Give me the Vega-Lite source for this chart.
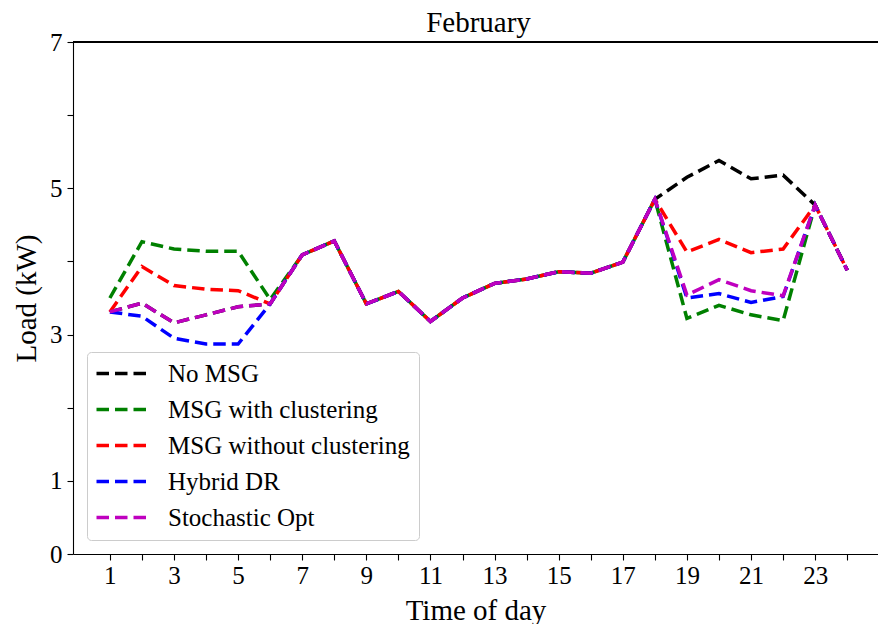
{
  "$schema": "https://vega.github.io/schema/vega-lite/v6.json",
  "autosize": {"type": "none"},
  "padding": {"left": 73, "top": 42, "right": 0, "bottom": 70},
  "width": 805,
  "height": 512,
  "background": "white",
  "config": {
    "font": "Liberation Serif",
    "view": {"stroke": null},
    "axis": {
      "grid": false,
      "domainColor": "black",
      "domainWidth": 1.1,
      "tickColor": "black",
      "tickWidth": 1.1,
      "tickSize": 6,
      "labelColor": "black",
      "labelFont": "Liberation Serif",
      "labelFontSize": 25,
      "labelOverlap": false,
      "labelFlush": false,
      "titleColor": "black",
      "titleFont": "Liberation Serif",
      "titleFontSize": 29,
      "titleFontWeight": "normal"
    },
    "legend": {
      "labelFont": "Liberation Serif",
      "labelFontSize": 25,
      "labelColor": "black",
      "labelLimit": 0
    }
  },
  "title": {
    "text": "February",
    "font": "Liberation Serif",
    "fontSize": 29,
    "fontWeight": "normal",
    "color": "black",
    "frame": "group",
    "offset": 3,
    "dx": 3,
    "dy": 11
  },
  "data": {
    "values": [
      {"hour": 1, "series": "No MSG", "load": 3.31},
      {"hour": 2, "series": "No MSG", "load": 3.43},
      {"hour": 3, "series": "No MSG", "load": 3.16},
      {"hour": 4, "series": "No MSG", "load": 3.27},
      {"hour": 5, "series": "No MSG", "load": 3.38},
      {"hour": 6, "series": "No MSG", "load": 3.42},
      {"hour": 7, "series": "No MSG", "load": 4.09},
      {"hour": 8, "series": "No MSG", "load": 4.28},
      {"hour": 9, "series": "No MSG", "load": 3.42},
      {"hour": 10, "series": "No MSG", "load": 3.59},
      {"hour": 11, "series": "No MSG", "load": 3.18},
      {"hour": 12, "series": "No MSG", "load": 3.5},
      {"hour": 13, "series": "No MSG", "load": 3.7},
      {"hour": 14, "series": "No MSG", "load": 3.76},
      {"hour": 15, "series": "No MSG", "load": 3.86},
      {"hour": 16, "series": "No MSG", "load": 3.84},
      {"hour": 17, "series": "No MSG", "load": 3.99},
      {"hour": 18, "series": "No MSG", "load": 4.85},
      {"hour": 19, "series": "No MSG", "load": 5.15},
      {"hour": 20, "series": "No MSG", "load": 5.38},
      {"hour": 21, "series": "No MSG", "load": 5.13},
      {"hour": 22, "series": "No MSG", "load": 5.18},
      {"hour": 23, "series": "No MSG", "load": 4.77},
      {"hour": 24, "series": "No MSG", "load": 3.88},

      {"hour": 1, "series": "MSG with clustering", "load": 3.5},
      {"hour": 2, "series": "MSG with clustering", "load": 4.27},
      {"hour": 3, "series": "MSG with clustering", "load": 4.17},
      {"hour": 4, "series": "MSG with clustering", "load": 4.14},
      {"hour": 5, "series": "MSG with clustering", "load": 4.14},
      {"hour": 6, "series": "MSG with clustering", "load": 3.48},
      {"hour": 7, "series": "MSG with clustering", "load": 4.09},
      {"hour": 8, "series": "MSG with clustering", "load": 4.28},
      {"hour": 9, "series": "MSG with clustering", "load": 3.42},
      {"hour": 10, "series": "MSG with clustering", "load": 3.59},
      {"hour": 11, "series": "MSG with clustering", "load": 3.18},
      {"hour": 12, "series": "MSG with clustering", "load": 3.5},
      {"hour": 13, "series": "MSG with clustering", "load": 3.7},
      {"hour": 14, "series": "MSG with clustering", "load": 3.76},
      {"hour": 15, "series": "MSG with clustering", "load": 3.86},
      {"hour": 16, "series": "MSG with clustering", "load": 3.84},
      {"hour": 17, "series": "MSG with clustering", "load": 3.99},
      {"hour": 18, "series": "MSG with clustering", "load": 4.85},
      {"hour": 19, "series": "MSG with clustering", "load": 3.22},
      {"hour": 20, "series": "MSG with clustering", "load": 3.4},
      {"hour": 21, "series": "MSG with clustering", "load": 3.27},
      {"hour": 22, "series": "MSG with clustering", "load": 3.19},
      {"hour": 23, "series": "MSG with clustering", "load": 4.77},
      {"hour": 24, "series": "MSG with clustering", "load": 3.88},

      {"hour": 1, "series": "MSG without clustering", "load": 3.31},
      {"hour": 2, "series": "MSG without clustering", "load": 3.93},
      {"hour": 3, "series": "MSG without clustering", "load": 3.67},
      {"hour": 4, "series": "MSG without clustering", "load": 3.62},
      {"hour": 5, "series": "MSG without clustering", "load": 3.6},
      {"hour": 6, "series": "MSG without clustering", "load": 3.42},
      {"hour": 7, "series": "MSG without clustering", "load": 4.09},
      {"hour": 8, "series": "MSG without clustering", "load": 4.28},
      {"hour": 9, "series": "MSG without clustering", "load": 3.42},
      {"hour": 10, "series": "MSG without clustering", "load": 3.59},
      {"hour": 11, "series": "MSG without clustering", "load": 3.18},
      {"hour": 12, "series": "MSG without clustering", "load": 3.5},
      {"hour": 13, "series": "MSG without clustering", "load": 3.7},
      {"hour": 14, "series": "MSG without clustering", "load": 3.76},
      {"hour": 15, "series": "MSG without clustering", "load": 3.86},
      {"hour": 16, "series": "MSG without clustering", "load": 3.84},
      {"hour": 17, "series": "MSG without clustering", "load": 3.99},
      {"hour": 18, "series": "MSG without clustering", "load": 4.85},
      {"hour": 19, "series": "MSG without clustering", "load": 4.13},
      {"hour": 20, "series": "MSG without clustering", "load": 4.3},
      {"hour": 21, "series": "MSG without clustering", "load": 4.12},
      {"hour": 22, "series": "MSG without clustering", "load": 4.17},
      {"hour": 23, "series": "MSG without clustering", "load": 4.77},
      {"hour": 24, "series": "MSG without clustering", "load": 3.88},

      {"hour": 1, "series": "Hybrid DR", "load": 3.31},
      {"hour": 2, "series": "Hybrid DR", "load": 3.25},
      {"hour": 3, "series": "Hybrid DR", "load": 2.95},
      {"hour": 4, "series": "Hybrid DR", "load": 2.87},
      {"hour": 5, "series": "Hybrid DR", "load": 2.87},
      {"hour": 6, "series": "Hybrid DR", "load": 3.42},
      {"hour": 7, "series": "Hybrid DR", "load": 4.09},
      {"hour": 8, "series": "Hybrid DR", "load": 4.28},
      {"hour": 9, "series": "Hybrid DR", "load": 3.42},
      {"hour": 10, "series": "Hybrid DR", "load": 3.59},
      {"hour": 11, "series": "Hybrid DR", "load": 3.18},
      {"hour": 12, "series": "Hybrid DR", "load": 3.5},
      {"hour": 13, "series": "Hybrid DR", "load": 3.7},
      {"hour": 14, "series": "Hybrid DR", "load": 3.76},
      {"hour": 15, "series": "Hybrid DR", "load": 3.86},
      {"hour": 16, "series": "Hybrid DR", "load": 3.84},
      {"hour": 17, "series": "Hybrid DR", "load": 3.99},
      {"hour": 18, "series": "Hybrid DR", "load": 4.85},
      {"hour": 19, "series": "Hybrid DR", "load": 3.5},
      {"hour": 20, "series": "Hybrid DR", "load": 3.56},
      {"hour": 21, "series": "Hybrid DR", "load": 3.44},
      {"hour": 22, "series": "Hybrid DR", "load": 3.52},
      {"hour": 23, "series": "Hybrid DR", "load": 4.77},
      {"hour": 24, "series": "Hybrid DR", "load": 3.88},

      {"hour": 1, "series": "Stochastic Opt", "load": 3.31},
      {"hour": 2, "series": "Stochastic Opt", "load": 3.43},
      {"hour": 3, "series": "Stochastic Opt", "load": 3.16},
      {"hour": 4, "series": "Stochastic Opt", "load": 3.27},
      {"hour": 5, "series": "Stochastic Opt", "load": 3.38},
      {"hour": 6, "series": "Stochastic Opt", "load": 3.42},
      {"hour": 7, "series": "Stochastic Opt", "load": 4.09},
      {"hour": 8, "series": "Stochastic Opt", "load": 4.28},
      {"hour": 9, "series": "Stochastic Opt", "load": 3.42},
      {"hour": 10, "series": "Stochastic Opt", "load": 3.59},
      {"hour": 11, "series": "Stochastic Opt", "load": 3.18},
      {"hour": 12, "series": "Stochastic Opt", "load": 3.5},
      {"hour": 13, "series": "Stochastic Opt", "load": 3.7},
      {"hour": 14, "series": "Stochastic Opt", "load": 3.76},
      {"hour": 15, "series": "Stochastic Opt", "load": 3.86},
      {"hour": 16, "series": "Stochastic Opt", "load": 3.84},
      {"hour": 17, "series": "Stochastic Opt", "load": 3.99},
      {"hour": 18, "series": "Stochastic Opt", "load": 4.85},
      {"hour": 19, "series": "Stochastic Opt", "load": 3.54},
      {"hour": 20, "series": "Stochastic Opt", "load": 3.75},
      {"hour": 21, "series": "Stochastic Opt", "load": 3.6},
      {"hour": 22, "series": "Stochastic Opt", "load": 3.53},
      {"hour": 23, "series": "Stochastic Opt", "load": 4.77},
      {"hour": 24, "series": "Stochastic Opt", "load": 3.88}
    ]
  },
  "layer": [
    {
      "encoding": {
        "x": {
          "field": "hour",
          "type": "quantitative",
          "scale": {"domain": [-0.15, 24.96], "nice": false, "zero": false},
          "axis": {
            "title": "Time of day",
            "format": "d",
            "values": [1, 2, 3, 4, 5, 6, 7, 8, 9, 10, 11, 12, 13, 14, 15, 16, 17, 18, 19, 20, 21, 22, 23, 24],
            "labelExpr": "datum.value % 2 == 1 ? datum.label : ''",
            "labelPadding": 3,
            "titlePadding": 8
          }
        },
        "y": {
          "field": "load",
          "type": "quantitative",
          "scale": {"domain": [0, 7], "nice": false, "zero": false},
          "axis": {
            "title": "Load (kW)",
            "format": "d",
            "values": [0, 1, 2, 3, 4, 5, 6, 7],
            "labelExpr": "datum.value == 2 || datum.value == 4 || datum.value == 6 ? '' : datum.label",
            "labelPadding": 5,
            "titlePadding": 8
          }
        },
        "color": {
          "field": "series",
          "type": "nominal",
          "scale": {
            "domain": ["No MSG", "MSG with clustering", "MSG without clustering", "Hybrid DR", "Stochastic Opt"],
            "range": ["#000000", "#008000", "#ff0000", "#0000ff", "#bf00bf"]
          },
          "legend": {
            "title": null,
            "orient": "none",
            "legendX": 14,
            "legendY": 310,
            "padding": 9,
            "rowPadding": 10,
            "symbolType": "M-2.5,0H2.5",
            "symbolSize": 400,
            "symbolStrokeWidth": 3.5,
            "symbolDash": [12.5, 6],
            "symbolOffset": 13,
            "labelOffset": 34,
            "labelLimit": 0,
            "fillColor": "rgba(255,255,255,0.8)",
            "strokeColor": "#cccccc",
            "cornerRadius": 4
          }
        }
      },
      "layer": [
        {"transform": [{"filter": "datum.series == 'No MSG'"}], "mark": {"type": "line", "strokeWidth": 3.5, "strokeDash": [12.5, 6]}},
        {"transform": [{"filter": "datum.series == 'MSG with clustering'"}], "mark": {"type": "line", "strokeWidth": 3.5, "strokeDash": [12.5, 6]}},
        {"transform": [{"filter": "datum.series == 'MSG without clustering'"}], "mark": {"type": "line", "strokeWidth": 3.5, "strokeDash": [12.5, 6]}},
        {"transform": [{"filter": "datum.series == 'Hybrid DR'"}], "mark": {"type": "line", "strokeWidth": 3.5, "strokeDash": [12.5, 6]}},
        {"transform": [{"filter": "datum.series == 'Stochastic Opt'"}], "mark": {"type": "line", "strokeWidth": 3.5, "strokeDash": [12.5, 6]}}
      ]
    },
    {
      "mark": {"type": "rule", "color": "black", "strokeWidth": 1.1},
      "encoding": {"y": {"datum": 7, "type": "quantitative"}}
    }
  ]
}
